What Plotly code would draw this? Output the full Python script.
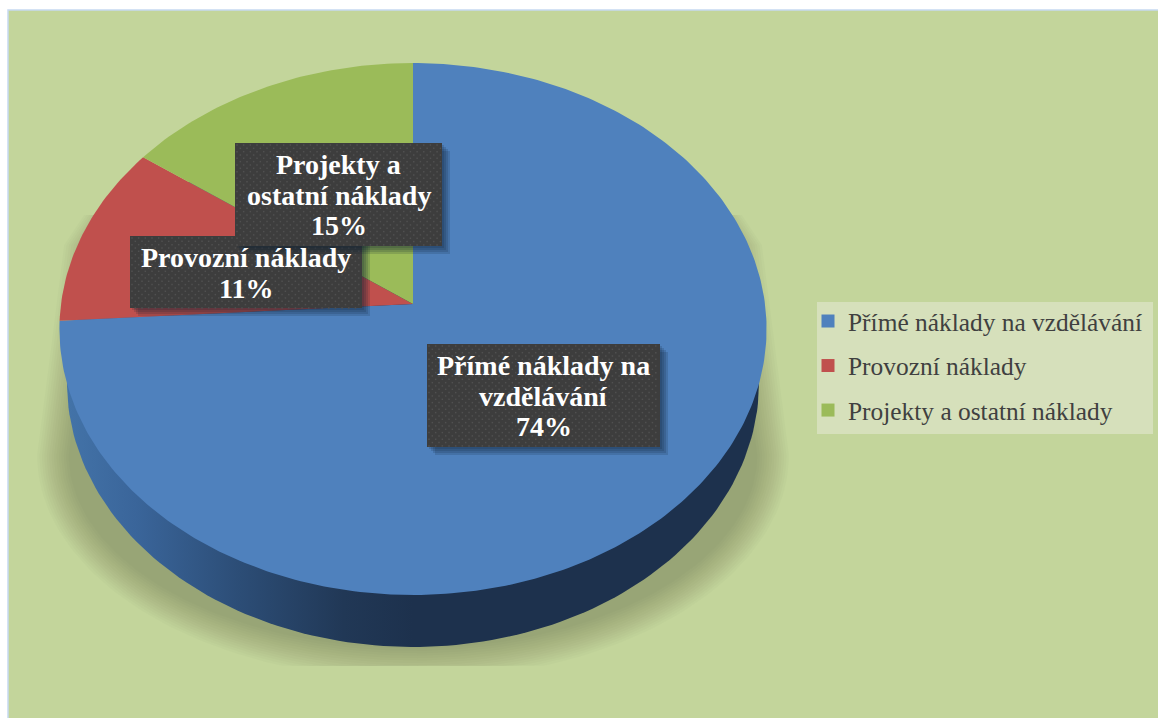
import numpy as np
import plotly.graph_objects as go

# ---- data ----
labels = ["Přímé náklady na vzdělávání", "Provozní náklady", "Projekty a ostatní náklady"]
values = [74, 11, 15]
slice_colors = ["#4f81bd", "#c0504d", "#9bbb59"]
label_lines = [["Přímé náklady na", "vzdělávání"], ["Provozní náklady"], ["Projekty a", "ostatní náklady"]]

# ---- layout constants (page pixels) ----
W, H = 1158, 718
BG = "#c3d59b"
CX, APEX_Y = 413, 304
K, A, B = 0.094, 263.6, 352.0          # perspective of the tilted disc
SIDE_CY, SIDE_RX, SIDE_RY = 383, 346, 264
FONT = "Liberation Serif"
LINE_H = 30.7
# label boxes: x0, x1, y0, y1 for each slice, and stacking order
boxes = {0: (427, 660, 344, 447), 1: (130, 362, 236, 308), 2: (235, 442, 143, 246)}
draw_order = [0, 1, 2]


def project(theta):
    """Clockwise angle from 12 o'clock -> picture position on the tilted disc."""
    u, v = np.sin(theta), -np.cos(theta)
    d = 1 - K * v
    return CX + B * u / d, APEX_Y + A * v / d


def filled(x, y, color, **kw):
    return go.Scatter(x=x, y=y, mode="lines", fill="toself", fillcolor=color,
                      line=dict(width=0), hoverinfo="skip", showlegend=False, **kw)


fig = go.Figure()

# frame
fig.add_shape(type="rect", x0=8, x1=W + 2, y0=10, y1=H + 2, fillcolor=BG,
              line=dict(color="#c6d9f1", width=1.5), layer="below")

# soft ground shadow
n_sh, band = 14, 34
alpha = 1 - (157 / 195) ** (1 / n_sh)
arc = np.linspace(np.pi, 0, 120)
for i in range(n_sh):
    d = band * i / n_sh
    ax = CX + (376 - d) * np.cos(arc)
    ay = np.minimum(455 + (225 - d) * np.sin(arc), 666)
    xs = np.r_[84 + d, 64 + d, 52 + d, ax, 774 - d, 762 - d, 742 - d]
    ys = np.r_[215, 245, 340, ay, 340, 245, 215]
    fig.add_trace(filled(xs, ys, f"rgba(0,0,0,{alpha:.4f})"))

# side wall with its horizontal gradient
t = np.linspace(0, 2 * np.pi, 240)
fig.add_trace(go.Scatter(
    x=CX + SIDE_RX * np.cos(t), y=SIDE_CY + SIDE_RY * np.sin(t),
    mode="lines", fill="toself", line=dict(width=0), hoverinfo="skip", showlegend=False,
    fillgradient=dict(type="horizontal",
                      colorscale=[[0, "#4373a8"], [0.1, "#3a659a"], [0.25, "#2c4d76"],
                                  [0.4, "#213856"], [0.5, "#1d314d"], [1, "#1d314d"]])))

# slices
start = 0.0
total = sum(values)
for lab, val, col in zip(labels, values, slice_colors):
    end = start + val / total * 2 * np.pi
    th = np.linspace(start, end, max(int(val * 4), 12))
    px, py = project(th)
    fig.add_trace(filled(np.r_[CX, px, CX], np.r_[APEX_Y, py, APEX_Y], col))
    start = end

# legend entries
for lab, col in zip(labels, slice_colors):
    fig.add_trace(go.Scatter(x=[None], y=[None], mode="markers", name=lab, legendgroup=lab,
                             marker=dict(symbol="square", size=13, color=col)))
fig.add_shape(type="rect", x0=817, x1=1153, y0=302, y1=434, fillcolor="#d6e0bb",
              line=dict(width=0), layer="below")

# data label boxes (shadow, box, dotted texture)
for idx in draw_order:
    x0, x1, y0, y1 = boxes[idx]
    for s in range(1, 5):
        o = 2 * s
        fig.add_trace(filled([x0 + o, x1 + o, x1 + o, x0 + o, x0 + o],
                             [y0 + o, y0 + o, y1 + o, y1 + o, y0 + o], "rgba(15,30,50,0.16)"))
    fig.add_trace(filled([x0, x1, x1, x0, x0], [y0, y0, y1, y1, y0], "#3d3d3d"))
    dx, dy = [], []
    for r, yy in enumerate(np.arange(y0 + 2, y1, 3.33)):
        for xx in np.arange(x0 + 2 + (r % 2) * 3.33, x1 - 1, 6.67):
            dx.append(xx)
            dy.append(yy)
    fig.add_trace(go.Scatter(x=dx, y=dy, mode="markers", hoverinfo="skip", showlegend=False,
                             marker=dict(symbol="square", size=1.5, color="#505050", line=dict(width=0))))
    lines = label_lines[idx] + [f"{values[idx]}%"]
    mid = (y0 + y1) / 2 + 0.7
    for j, line in enumerate(lines):
        fig.add_annotation(x=(x0 + x1) / 2, y=mid + (j - (len(lines) - 1) / 2) * LINE_H,
                           xref="x", yref="y", showarrow=False, text=line, align="center",
                           font=dict(family=FONT, size=28, color="white", weight="bold"))

fig.update_layout(
    width=W, height=H, margin=dict(l=0, r=0, t=0, b=0),
    paper_bgcolor="white", plot_bgcolor="rgba(0,0,0,0)",
    xaxis=dict(range=[0, W], visible=False, fixedrange=True),
    yaxis=dict(range=[H, 0], visible=False, fixedrange=True),
    legend=dict(x=808 / W, y=1 - 298 / H, xanchor="left", yanchor="top", bgcolor="rgba(0,0,0,0)",
                font=dict(family=FONT, size=25.4, color="#404040"),
                traceorder="grouped", tracegroupgap=8.5),
)

fig.write_html("out.html", config=dict(displayModeBar=False), post_script=(
    "document.body.style.margin='0';document.documentElement.style.overflow='hidden';"))
